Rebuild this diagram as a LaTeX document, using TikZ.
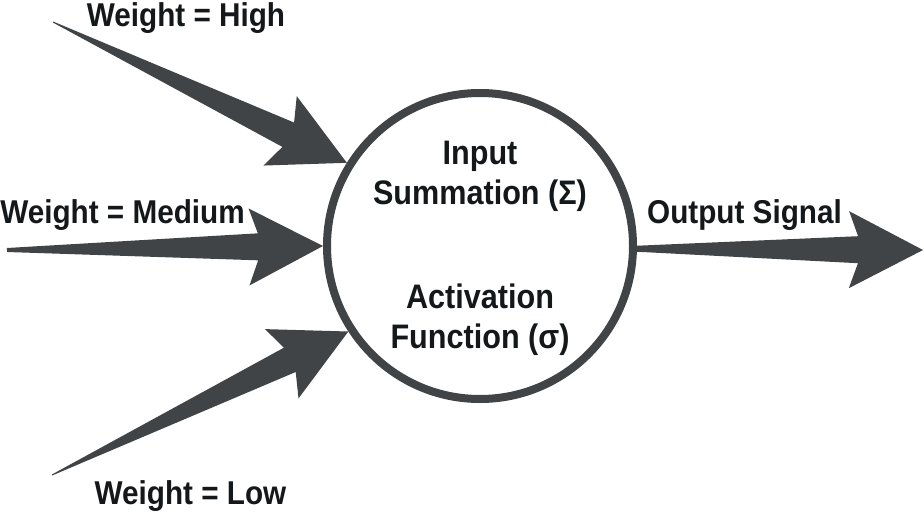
\documentclass[tikz,border=0pt]{standalone}
\usepackage{fontspec}
\setmainfont{Liberation Sans}[FakeStretch=0.9]
\usetikzlibrary{calc}
\definecolor{arrowgray}{HTML}{404447}
\definecolor{textdark}{HTML}{14181B}
% tapered arrow: #1 tail, #2 tip, #3 tail half-width
\newcommand\wedgearrow[3]{%
  \coordinate (wn) at ($(#2)!65pt!(#1)$);
  \coordinate (wb) at ($(#2)!74pt!(#1)$);
  \fill[arrowgray] ($(#1)!#3!90:(#2)$) -- ($(wn)!13.5pt!90:(#2)$) -- ($(wb)!38.5pt!90:(#2)$)
     -- (#2) -- ($(wb)!38.5pt!-90:(#2)$) -- ($(wn)!13.5pt!-90:(#2)$) -- ($(#1)!#3!-90:(#2)$) -- cycle;
}
\begin{document}
\begin{tikzpicture}[x=1pt,y=-1pt,
  lbl/.style={font=\bfseries\fontsize{33}{38}\selectfont, text=textdark, inner sep=0pt, anchor=base},
  ctext/.style={font=\bfseries\fontsize{34}{40}\selectfont, text=textdark, inner sep=0pt, align=center},
  neuronstyle/.style={circle, draw=arrowgray, line width=8pt, minimum size=306pt, inner sep=0pt}]
\useasboundingbox (0,0) rectangle (924,514);
\fill[white] (0,0) rectangle (924,514);
\node[neuronstyle] (neuron) at (480,246) {};
\coordinate (thigh) at (53,22);
\coordinate (tmed) at (7,250);
\coordinate (tlow) at (52,475);
\coordinate (outtip) at (923,250);
\wedgearrow{thigh}{neuron.148}{0.5pt}
\wedgearrow{tmed}{neuron.180}{2pt}
\wedgearrow{tlow}{neuron.213}{0.5pt}
\wedgearrow{neuron.-1}{outtip}{3pt}
\node[lbl] (lhigh) at (186,27) {Weight = High};
\node[lbl] (lmed) at (122.5,223) {Weight = Medium};
\node[lbl] (llow) at (190.5,504) {Weight = Low};
\node[lbl] (lout) at (744.5,223) {Output Signal};
\node[ctext] (sum) at (480,176.4) {Input\\Summation (Σ)};
\node[ctext] (act) at (480,319.4) {Activation\\Function (σ)};
\end{tikzpicture}
\end{document}
